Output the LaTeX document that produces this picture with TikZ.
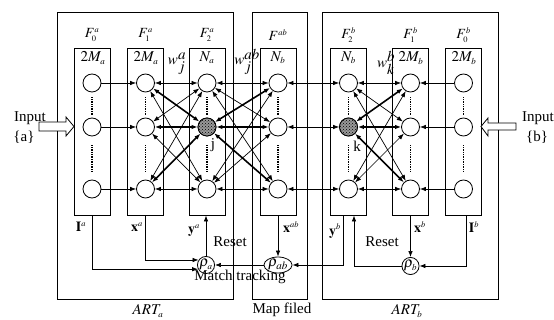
\documentclass[tikz,border=0pt]{standalone}
\usepackage{mathptmx}
\usepackage{fontspec}
\setmainfont{Liberation Serif}
\usetikzlibrary{arrows.meta,patterns,shapes.geometric}
\begin{document}
\begin{tikzpicture}[x=1pt,y=-1pt,
  every node/.style={font=\fontsize{15}{17}\selectfont,inner sep=0pt},
  lbl/.style={font=\fontsize{14}{16}\selectfont},
  colbox/.style={draw,line width=0.9pt,minimum width=36pt,minimum height=167pt},
  outerbox/.style={draw,line width=0.9pt,minimum height=287pt},
  unit/.style={draw,circle,line width=0.8pt,minimum size=18pt,fill=white},
  winner/.style={draw,circle,line width=0.8pt,minimum size=18pt,fill=gray!80,postaction={pattern=crosshatch dots,pattern color=black}},
  dotline/.style={line width=1.6pt,dash pattern=on 1pt off 0.7pt},
  tip/.tip={Latex[length=6pt,width=4.5pt]},
  sarrow/.style={line width=0.7pt,-tip},
  darrow/.style={line width=0.7pt,tip-tip},
  thickc/.style={line width=1.6pt},
  hollow/.style={draw,line width=0.8pt,fill=white}
]
\useasboundingbox (0,0) rectangle (554,320);
\fill[white] (0,0) rectangle (554,320);

% outer boxes
\node[outerbox,minimum width=176pt] (ARTa) at (145,155.5) {};
\node[outerbox,minimum width=55pt] (MAP) at (279.5,155.5) {};
\node[outerbox,minimum width=176pt] (ARTb) at (410,155.5) {};

% columns
\foreach \c/\x in {a0/92,a1/145.5,a2/207,ab/278,b2/348.5,b1/410.5,b0/463.5}{
  \node[colbox] (\c-box) at (\x,131.5) {};
  \node[unit] (\c-1) at (\x,83) {};
  \node[unit] (\c-2) at (\x,127) {};
  \node[unit] (\c-3) at (\x,189) {};
}
\node[winner] (a2-2) at (207,127) {};
\node[winner] (b2-2) at (348.5,127) {};
\foreach \c in {a0,a1,a2,ab,b2,b1,b0}{
  \draw[dotline,shorten <=5pt,shorten >=3pt] (\c-1) -- (\c-2);
  \draw[dotline,shorten <=9pt,shorten >=8pt] (\c-2) -- (\c-3);
}

% layer labels
\node[lbl] (La0) at (92,35) {$F^{\scriptscriptstyle a}_{\scriptscriptstyle 0}$};
\node[lbl] (La1) at (145.5,35) {$F^{\scriptscriptstyle a}_{\scriptscriptstyle 1}$};
\node[lbl] (La2) at (207,35) {$F^{\scriptscriptstyle a}_{\scriptscriptstyle 2}$};
\node[lbl] (Lab) at (278,35) {$F^{\scriptscriptstyle ab}$};
\node[lbl] (Lb2) at (348.5,35) {$F^{\scriptscriptstyle b}_{\scriptscriptstyle 2}$};
\node[lbl] (Lb1) at (410.5,35) {$F^{\scriptscriptstyle b}_{\scriptscriptstyle 1}$};
\node[lbl] (Lb0) at (463.5,35) {$F^{\scriptscriptstyle b}_{\scriptscriptstyle 0}$};

\node (Ma0) at (93,58) {$2M_{\scriptscriptstyle a}$};
\node (Ma1) at (146,58) {$2M_{\scriptscriptstyle a}$};
\node (Na2) at (207,58) {$N_{\scriptscriptstyle a}$};
\node (Nab) at (278,58) {$N_{\scriptscriptstyle b}$};
\node (Nb2) at (348.5,58) {$N_{\scriptscriptstyle b}$};
\node (Mb1) at (411,58) {$2M_{\scriptscriptstyle b}$};
\node (Mb0) at (464,58) {$2M_{\scriptscriptstyle b}$};

% weights
\node (wa) at (177,64) {$w^{\textstyle a}_{\textstyle j}$};
\node (wab) at (247,62) {$w^{\textstyle ab}_{\textstyle j}$};
\node (wb) at (386,63) {$w^{\textstyle b}_{\textstyle k}$};

\node (jl) at (213,145) {j};
\node (kl) at (357,146) {k};

% connections
\foreach \i in {1,2,3}{
  \draw[sarrow] (a0-\i) -- (a1-\i);
  \draw[sarrow] (b0-\i) -- (b1-\i);
  \draw[darrow] (ab-\i) -- (b2-\i);
  \foreach \j in {1,3}{
    \draw[darrow] (a1-\i) -- (a2-\j);
    \draw[darrow] (a2-\j) -- (ab-\i);
    \draw[darrow] (b2-\j) -- (b1-\i);
  }
  \draw[darrow,thickc] (a1-\i) -- (a2-2);
  \draw[darrow,thickc] (a2-2) -- (ab-\i);
  \draw[darrow,thickc] (b2-2) -- (b1-\i);
}

% inputs
\node (ina) at (30,118) {Input};
\node (ina2) at (24,137) {\{a\}};
\node (inb) at (538,118) {Input};
\node (inb2) at (537,137) {\{b\}};
\draw[hollow] (39,122) -- (66,122) -- (66,117) -- (74,126.5) -- (66,136) -- (66,131) -- (39,131) -- cycle;
\draw[hollow] (516,123) -- (488,123) -- (488,118) -- (481,126.5) -- (488,136) -- (488,130) -- (516,130) -- cycle;

% bottom labels
\node[lbl] (Ia) at (81,227) {$\mathbf{I}^{\scriptscriptstyle a}$};
\node[lbl] (xa) at (137,227) {$\mathbf{x}^{\scriptscriptstyle a}$};
\node[lbl] (ya) at (194,231) {$\mathbf{y}^{\scriptscriptstyle a}$};
\node[lbl] (xab) at (291,227) {$\mathbf{x}^{\scriptscriptstyle ab}$};
\node[lbl] (yb) at (335,231) {$\mathbf{y}^{\scriptscriptstyle b}$};
\node[lbl] (xb) at (420,227) {$\mathbf{x}^{\scriptscriptstyle b}$};
\node[lbl] (Ib) at (474,227) {$\mathbf{I}^{\scriptscriptstyle b}$};

% vigilance nodes
\node[draw,circle,line width=0.8pt,minimum size=17pt,fill=white] (rhoa) at (206,265) {$\rho_{\scriptscriptstyle a}$};
\node[draw,ellipse,line width=0.8pt,minimum width=27pt,minimum height=16pt,fill=white] (rhoab) at (278,265) {$\rho_{ab}$};
\node[draw,circle,line width=0.8pt,minimum size=17pt,fill=white] (rhob) at (410.5,266) {$\rho_{\scriptscriptstyle b}$};

\draw[sarrow] (a0-box.south) |- (rhoa.208);
\draw[sarrow] (a1-box.south) |- (rhoa.146);
\draw[sarrow] (rhoa.north) -- (rhoa.north |- a2-box.south);
\draw[sarrow] (ab-box.south) -- (rhoab.north);
\draw[sarrow] (rhoab.west) -- (rhoa.east);
\draw[sarrow] ([xshift=-5.5pt]b2-box.south) |- (rhoab.east);
\draw[sarrow] (rhob.west) -| ([xshift=5.5pt]b2-box.south);
\draw[sarrow] (b1-box.south) -- (rhob.north);
\draw[sarrow] ([xshift=2.5pt]b0-box.south) |- (rhob.east);

\node (reseta) at (230,242) {Reset};
\node (resetb) at (382,242) {Reset};
\node (match) at (240,277) {Match tracking};

\node (arta) at (148,311) {$ART_{\scriptscriptstyle a}$};
\node (mapl) at (282,310) {Map filed};
\node (artb) at (407,311) {$ART_{\scriptscriptstyle b}$};
\end{tikzpicture}
\end{document}
